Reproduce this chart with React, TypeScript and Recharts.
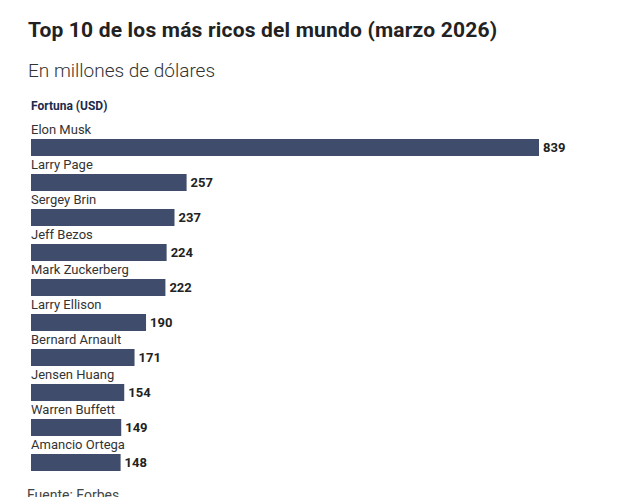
import React from 'react';
import { BarChart, Bar, XAxis, YAxis, LabelList } from 'recharts';

const names = [
  'Elon Musk',
  'Larry Page',
  'Sergey Brin',
  'Jeff Bezos',
  'Mark Zuckerberg',
  'Larry Ellison',
  'Bernard Arnault',
  'Jensen Huang',
  'Warren Buffett',
  'Amancio Ortega',
];
const fortunes = [839, 257, 237, 224, 222, 190, 171, 154, 149, 148];

const BAR_COLOR = '#3f4c6b';
const FONT = 'Roboto, "Noto Sans", sans-serif';

const data = names.map((name, i) => ({ name, value: fortunes[i] }));

// person name sits just above its bar, left aligned
const NameLabel = (props: any) => {
  const { x, y, value } = props;
  return (
    <text x={Number(x)} y={Number(y) - 5} fill="#333" fontSize={13} fontFamily={FONT}>
      {value}
    </text>
  );
};

export default function App() {
  return (
    <div style={{ position: 'relative', width: 617, height: 497, overflow: 'hidden', background: '#fff', fontFamily: FONT }}>
      <style>{`body{margin:0}`}</style>
      <div style={{ position: 'absolute', left: 28, top: 18, fontSize: 21, fontWeight: 700, color: '#222', letterSpacing: 0.18, whiteSpace: 'nowrap' }}>
        Top 10 de los más ricos del mundo (marzo 2026)
      </div>
      <div style={{ position: 'absolute', left: 28, top: 59, fontSize: 19, fontWeight: 300, color: '#333', whiteSpace: 'nowrap' }}>
        En millones de dólares
      </div>
      <div style={{ position: 'absolute', left: 31, top: 99, fontSize: 12, fontWeight: 700, color: '#1c2a4c', whiteSpace: 'nowrap' }}>
        Fortuna (USD)
      </div>
      <div style={{ position: 'absolute', left: 27, top: 487, fontSize: 14, color: '#444', whiteSpace: 'nowrap' }}>
        Fuente: Forbes
      </div>
      <div style={{ position: 'absolute', left: 0, top: 0 }}>
        <BarChart
          width={617}
          height={497}
          data={data}
          layout="vertical"
          margin={{ top: 130, right: 78, bottom: 17, left: 31 }}
          barSize={17}
        >
          <XAxis type="number" domain={[0, 839]} hide />
          <YAxis type="category" dataKey="name" hide />
          <Bar dataKey="value" fill={BAR_COLOR} isAnimationActive={false}>
            <LabelList dataKey="name" content={NameLabel} />
            <LabelList
              dataKey="value"
              position="right"
              offset={4}
              fill="#222"
              fontSize={13}
              fontWeight={700}
              fontFamily={FONT}
            />
          </Bar>
        </BarChart>
      </div>
    </div>
  );
}
